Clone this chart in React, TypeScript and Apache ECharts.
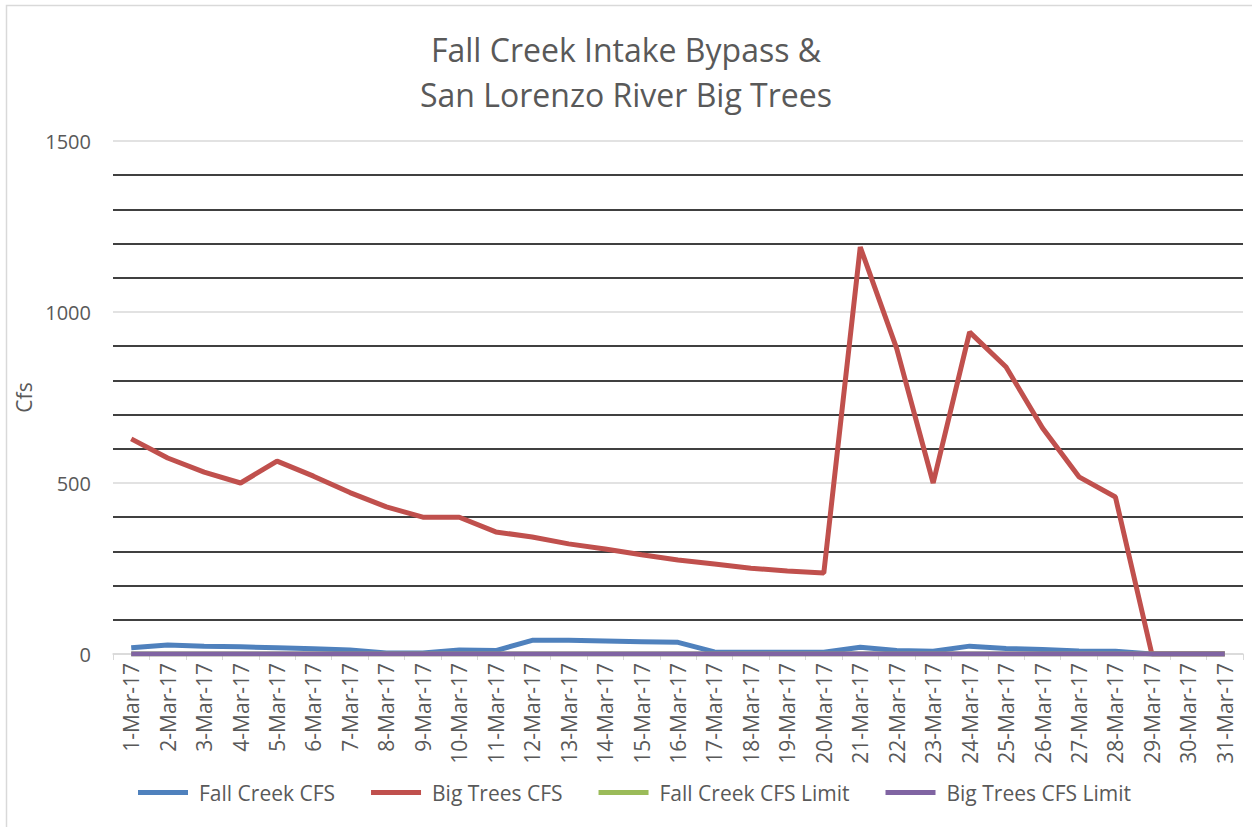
import React, { useEffect, useRef } from "react";
import * as echarts from "echarts";

const days: string[] = Array.from({ length: 31 }, (_, i) => `${i + 1}-Mar-17`);

const fallCreek: number[] = [18, 26, 23, 21, 18, 15, 12, 3, 3, 12, 10, 40, 40, 38, 36, 34, 6, 5, 5, 5, 20, 10, 8, 23, 16, 13, 9, 8, 0, 0, 0];
const bigTrees: number[] = [629, 573, 532, 500, 564, 520, 472, 430, 400, 400, 357, 342, 322, 307, 290, 275, 263, 251, 243, 237, 1190, 893, 500, 941, 839, 661, 518, 459, 0, 0, 0];
const fallCreekLimit: number[] = days.map(() => 0);
const bigTreesLimit: number[] = days.map(() => 0);

const FONT = "'Open Sans', 'Noto Sans', sans-serif";

export default function App() {
  const ref = useRef<HTMLDivElement>(null);
  useEffect(() => {
    const chart = echarts.init(ref.current!, undefined, { renderer: "svg" });
    const line = (name: string, data: number[], color: string) => ({
      name,
      type: "line",
      data,
      symbol: "none",
      lineStyle: { color, width: 5 },
      itemStyle: { color },
    });
    chart.setOption({
      animation: false,
      backgroundColor: "#ffffff",
      textStyle: { fontFamily: FONT },
      title: {
        text: "Fall Creek Intake Bypass &\nSan Lorenzo River Big Trees",
        left: "center",
        top: 22,
        textStyle: { fontFamily: FONT, fontSize: 32, fontWeight: "normal", color: "#595959", lineHeight: 45 },
      },
      graphic: [
        {
          type: "rect",
          shape: { x: 6.5, y: 5.5, width: 1300, height: 900 },
          style: { fill: "none", stroke: "#D9D9D9", lineWidth: 1.5 },
          silent: true,
        },
      ],
      legend: {
        top: 777,
        left: 133,
        itemWidth: 50,
        itemHeight: 5,
        itemGap: 36,
        icon: "rect",
        textStyle: { fontFamily: FONT, fontSize: 21, color: "#595959", padding: [0, 0, 0, 6] },
        data: ["Fall Creek CFS", "Big Trees CFS", "Fall Creek CFS Limit", "Big Trees CFS Limit"],
      },
      grid: { left: 113, right: 9, top: 141, bottom: 173, containLabel: false },
      xAxis: {
        type: "category",
        data: days,
        boundaryGap: true,
        axisLine: { lineStyle: { color: "#D9D9D9", width: 1.5 } },
        axisTick: { show: true, alignWithLabel: false, length: 6, lineStyle: { color: "#D9D9D9" } },
        axisLabel: { rotate: 90, interval: 0, fontSize: 21, color: "#595959", fontFamily: FONT, margin: 9 },
      },
      yAxis: {
        type: "value",
        min: 0,
        max: 1500,
        interval: 500,
        name: "Cfs",
        nameLocation: "middle",
        nameGap: 66,
        nameTextStyle: { fontSize: 21, color: "#595959", fontFamily: FONT },
        axisLine: { show: false },
        axisTick: { show: false },
        axisLabel: { fontSize: 20, color: "#595959", fontFamily: FONT, margin: 22, formatter: (v: number) => String(v) },
        splitLine: { show: true, lineStyle: { color: "#D9D9D9", width: 1.5 } },
        minorTick: { show: false, splitNumber: 5 },
        minorSplitLine: { show: true, lineStyle: { color: "#000000", width: 1.5 } },
      },
      series: [
        line("Fall Creek CFS", fallCreek, "#4F81BD"),
        line("Big Trees CFS", bigTrees, "#C0504D"),
        line("Fall Creek CFS Limit", fallCreekLimit, "#9BBB59"),
        line("Big Trees CFS Limit", bigTreesLimit, "#8064A2"),
      ],
    });
    return () => chart.dispose();
  }, []);
  return <div ref={ref} style={{ position: "fixed", left: 0, top: 0, width: 1252, height: 827 }} />;
}
